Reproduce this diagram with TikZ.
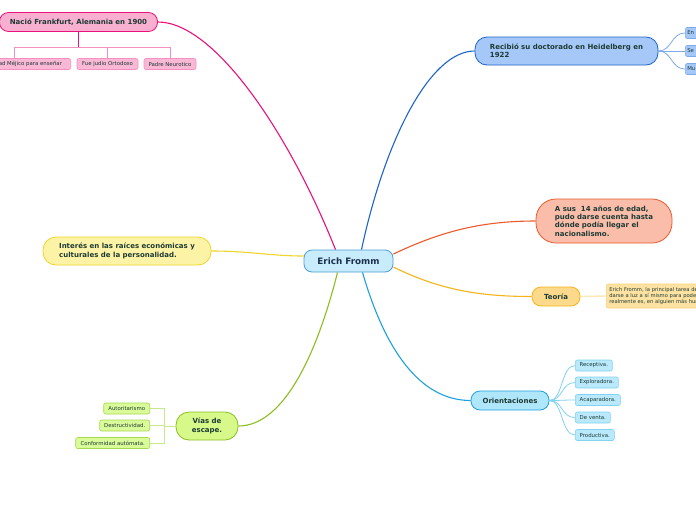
\documentclass[tikz,border=0pt]{standalone}
\usepackage{fontspec}
\setmainfont{DejaVu Sans}
\definecolor{txtc}{HTML}{1D3A34}
\definecolor{ctrtxt}{HTML}{1C2F4D}
\definecolor{ctrfill}{HTML}{C8ECFB}
\definecolor{ctrborder}{HTML}{4A9FD6}
\definecolor{pinkb}{HTML}{E8127A}
\definecolor{pinkf}{HTML}{F9B0D0}
\definecolor{pinkl}{HTML}{F590C0}
\definecolor{pinkc}{HTML}{F9B8D6}
\definecolor{blueb}{HTML}{1E64C8}
\definecolor{bluef}{HTML}{A6C8F9}
\definecolor{bluel}{HTML}{7FAAE8}
\definecolor{orgb}{HTML}{EC5A2C}
\definecolor{orgf}{HTML}{F9BDAA}
\definecolor{yelb}{HTML}{F4B41A}
\definecolor{yelf}{HTML}{FDD98C}
\definecolor{yell}{HTML}{FBD27A}
\definecolor{yelc}{HTML}{FDE2A2}
\definecolor{yelline}{HTML}{FDE8B8}
\definecolor{cyanb}{HTML}{1EA0E0}
\definecolor{cyanf}{HTML}{B0E6FA}
\definecolor{cyanl}{HTML}{82D2F2}
\definecolor{cyanc}{HTML}{B9E9FB}
\definecolor{ylwb}{HTML}{EED52A}
\definecolor{ylwf}{HTML}{FDF3A6}
\definecolor{grnb}{HTML}{8CBE22}
\definecolor{grnf}{HTML}{D6F98A}
\definecolor{grnl}{HTML}{A8D850}
\definecolor{grnc}{HTML}{DAFB9A}
\definecolor{grnline}{HTML}{C8E890}
\begin{document}
\begin{tikzpicture}[x=1pt,y=-1pt,
  bignode/.style={draw, line width=0.8pt, inner sep=0pt, align=left, text=txtc,
    font=\bfseries\fontsize{7}{8.4}\selectfont},
  leaf/.style={draw, line width=0.6pt, rounded corners=2pt, inner sep=0pt, minimum height=11pt,
    text=txtc, font=\fontsize{5.4}{6}\selectfont},
  conn/.style={line width=1.1pt},
  thin/.style={line width=0.8pt}]
\useasboundingbox (0,0) rectangle (696,520);
\fill[white] (0,0) rectangle (696,520);

% central
\node[draw=ctrborder, fill=ctrfill, line width=0.8pt, rounded corners=8pt, minimum width=89pt, minimum height=22pt,
  inner sep=0pt, text=ctrtxt, font=\bfseries\fontsize{8.8}{9}\selectfont] (fromm) at (348.5,261) {Erich Fromm};

% pink branch
\node[bignode, draw=pinkb, fill=pinkf, rounded corners=9pt, minimum width=158pt, minimum height=19pt, align=center] (nacio) at (78.5,22) {Nació Frankfurt, Alemania en 1900};
\node[leaf, draw=pinkl, fill=pinkc, minimum width=106pt, anchor=east] (p1) at (71,64) {Universidad Méjico para enseñar};
\node[leaf, draw=pinkl, fill=pinkc, minimum width=61pt] (p2) at (107.5,64) {Fue judio Ortodoxo};
\node[leaf, draw=pinkl, fill=pinkc, minimum width=52pt] (p3) at (170,64) {Padre Neurotico};
\draw[thin, pinkl] (nacio.south) ++(0,15) -| ([xshift=-3pt]p1.north);
\draw[thin, pinkl] (nacio.south) ++(0,15) -| (p2.north);
\draw[thin, pinkl] (nacio.south) ++(0,15) -| (p3.north);
\draw[thin, pinkb] (nacio.south) -- ++(0,15);
\draw[conn, pinkb] (nacio.east) .. controls (215,22) and (290,135) .. ([xshift=-13pt]fromm.north);

% blue branch
\node[bignode, draw=blueb, fill=bluef, rounded corners=12pt, minimum width=183pt, minimum height=28pt] (recibio) at (566.5,51) {Recibió su doctorado en Heidelberg en\\1922};
\node[leaf, draw=bluel, fill=bluef, anchor=west, minimum width=40pt, text width=36pt, align=left] (b1) at (685,33) {En};
\node[leaf, draw=bluel, fill=bluef, anchor=west, minimum width=40pt, text width=36pt, align=left] (b2) at (685,51) {Se};
\node[leaf, draw=bluel, fill=bluef, anchor=west, minimum width=40pt, text width=36pt, align=left] (b3) at (685,69) {Mu};
\foreach \b in {b1,b2,b3}{
  \draw[thin, bluel] (recibio.east) .. controls (672,51) and (671,51 |- \b.west) .. (\b.west);
}
\draw[conn, blueb] ([xshift=13pt]fromm.north) .. controls (385,140) and (430,51) .. (recibio.west);

% orange branch
\node[bignode, draw=orgb, fill=orgf, rounded corners=20pt, minimum width=136pt, minimum height=44pt] (asus) at (604,221) {A sus\ \ 14 años de edad,\\pudo darse cuenta hasta\\dónde podía llegar el\\nacionalismo.};
\draw[conn, orgb] ([yshift=7pt]fromm.east) .. controls (440,232) and (480,221) .. (asus.west);

% teoria
\node[bignode, draw=yelb, fill=yelf, rounded corners=9pt, minimum width=48pt, minimum height=19pt, align=center] (teoria) at (556,296.5) {Teoría};
\node[draw=yell, fill=yelc, line width=0.6pt, rounded corners=2pt, inner sep=0pt, anchor=west, minimum width=130pt, minimum height=24pt,
  text width=124pt, align=left, text=txtc, font=\fontsize{5.2}{6}\selectfont] (teotxt) at (606,296)
  {Erich Fromm, la principal tarea del hombre\\darse a luz a sí mismo para poder ser lo que\\realmente es, en alguien más humano.};
\draw[line width=1.4pt, yelline] (teoria.east) -- (teotxt.west);
\draw[conn, yelb] ([yshift=-6pt]fromm.east) .. controls (440,290) and (480,296.5) .. (teoria.west);

% orientaciones
\node[bignode, draw=cyanb, fill=cyanf, rounded corners=9pt, minimum width=78pt, minimum height=19pt, align=center] (orient) at (510,400.5) {Orientaciones};
\node[leaf, draw=cyanl, fill=cyanc, anchor=west, minimum width=37pt] (o1) at (575,365.5) {Receptiva.};
\node[leaf, draw=cyanl, fill=cyanc, anchor=west, minimum width=43pt] (o2) at (575,382.5) {Exploradora.};
\node[leaf, draw=cyanl, fill=cyanc, anchor=west, minimum width=45pt] (o3) at (575,400) {Acaparadora.};
\node[leaf, draw=cyanl, fill=cyanc, anchor=west, minimum width=35pt] (o4) at (575,417.5) {De venta.};
\node[leaf, draw=cyanl, fill=cyanc, anchor=west, minimum width=39pt] (o5) at (575,435) {Productiva.};
\foreach \o in {o1,o2,o3,o4,o5}{
  \draw[thin, cyanl] (orient.east) .. controls (563,400.5) and (561,400.5 |- \o.west) .. (\o.west);
}
\draw[conn, cyanb] ([xshift=14pt]fromm.south) .. controls (385,350) and (420,400.5) .. (orient.west);

% interes
\node[bignode, draw=ylwb, fill=ylwf, rounded corners=13pt, minimum width=168pt, minimum height=28pt] (interes) at (127,251) {Interés en las raíces económicas y\\culturales de la personalidad.};
\draw[conn, ylwb] (interes.east) .. controls (250,251) and (270,256) .. ([yshift=5pt]fromm.west);

% vias
\node[bignode, draw=grnb, fill=grnf, rounded corners=13pt, minimum width=62pt, minimum height=28pt, align=center] (vias) at (207,426) {Vías de\\escape.};
\node[leaf, draw=grnl, fill=grnc, anchor=east, minimum width=46pt] (v1) at (150,408.5) {Autoritarismo};
\node[leaf, draw=grnl, fill=grnc, anchor=east, minimum width=50pt] (v2) at (150,425.5) {Destructividad.};
\node[leaf, draw=grnl, fill=grnc, anchor=east, minimum width=74pt] (v3) at (150,443) {Conformidad autómata.};
\foreach \v in {v1,v2,v3}{
  \draw[thin, grnline] (vias.west) -- ++(-11,0) |- (\v.east);
}
\draw[conn, grnb] ([xshift=-11pt]fromm.south) .. controls (318,350) and (285,426) .. (vias.east);
\end{tikzpicture}
\end{document}
